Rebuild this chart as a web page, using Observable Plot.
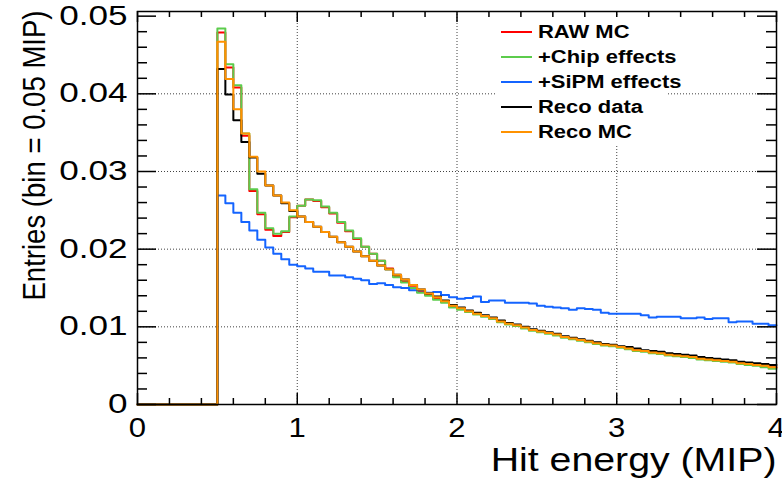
<!DOCTYPE html>
<html>
<head>
<meta charset="utf-8">
<script src="https://cdn.jsdelivr.net/npm/d3@7"></script>
<script src="https://cdn.jsdelivr.net/npm/@observablehq/plot@0.6"></script>
<style>
  body { margin: 0; background: #fff; }
  #wrap { position: relative; width: 782px; height: 482px; font-family: "Liberation Sans", Arial, sans-serif; }
  #legend { position: absolute; left: 495px; top: 17px; width: 172px; height: 128px; background: #fff; }
  .item { position: absolute; left: 0; height: 24px; white-space: nowrap; }
  .swatch { position: absolute; left: 6px; top: 11px; width: 31px; height: 2px; }
  .label { position: absolute; left: 43px; top: 2px; font-weight: bold; font-size: 18px; line-height: 20px;
           display: inline-block; transform: scaleX(1.22); transform-origin: left center; color: #000; }
</style>
</head>
<body>
<div id="wrap"></div>
<script>
// Histogram binning (MIP)
const binStart = 0.5;
const binWidth = 0.05;
const xMin = 0;

// Series values per bin (0.5 → 4.0 MIP, bin = 0.05 MIP)
const rawMC = [
  0.0479,0.0434,0.0408,0.0346,0.0275,0.0245,0.0225,0.0217,0.0222,0.0241,
  0.0256,0.0264,0.0262,0.0254,0.0246,0.0234,0.0223,0.0213,0.0203,0.0194,
  0.0185,0.0175,0.0165,0.0158,0.0151,0.0145,0.0141,0.0136,0.0132,0.0126,
  0.0123,0.0120,0.0117,0.0114,0.0111,0.0107,0.0104,0.0102,0.0099,0.0096,
  0.0094,0.0092,0.0090,0.0087,0.0085,0.0083,0.0081,0.0079,0.0077,0.0076,
  0.0074,0.0072,0.0070,0.0069,0.0067,0.0066,0.0064,0.0063,0.0062,0.0061,
  0.0059,0.0058,0.0057,0.0056,0.0055,0.0054,0.0053,0.0052,0.0050,0.0048];
const chipEffects = [
  0.0484,0.0438,0.0411,0.0349,0.0277,0.0247,0.0227,0.0220,0.0223,0.0242,
  0.0256,0.0264,0.0263,0.0255,0.0247,0.0235,0.0224,0.0214,0.0203,0.0194,
  0.0185,0.0174,0.0164,0.0157,0.0150,0.0144,0.0140,0.0135,0.0131,0.0125,
  0.0122,0.0119,0.0116,0.0113,0.0110,0.0106,0.0103,0.0101,0.0098,0.0095,
  0.0093,0.0091,0.0089,0.0086,0.0084,0.0082,0.0080,0.0078,0.0076,0.0075,
  0.0073,0.0071,0.0069,0.0068,0.0066,0.0065,0.0063,0.0062,0.0061,0.0060,
  0.0058,0.0057,0.0056,0.0055,0.0054,0.0052,0.0051,0.0050,0.0048,0.0046];
const sipmEffects = [
  0.0269,0.0259,0.0247,0.0235,0.0224,0.0212,0.0202,0.0194,0.0187,0.0180,
  0.0178,0.0175,0.0171,0.0171,0.0166,0.0166,0.0164,0.0162,0.0160,0.0155,
  0.0156,0.0154,0.0151,0.0150,0.0147,0.0147,0.0144,0.0145,0.0141,0.0138,
  0.0136,0.0137,0.0139,0.0132,0.0134,0.0134,0.0131,0.0131,0.0131,0.0130,
  0.0127,0.0126,0.0125,0.0124,0.0122,0.0124,0.0123,0.0122,0.0118,0.0117,
  0.0117,0.0117,0.0117,0.0115,0.0112,0.0113,0.0113,0.0113,0.0111,0.0111,
  0.0112,0.0110,0.0111,0.0111,0.0106,0.0107,0.0107,0.0104,0.0104,0.0102];
const recoData = [
  0.0432,0.0399,0.0366,0.0338,0.0318,0.0297,0.0282,0.0269,0.0259,0.0249,
  0.0242,0.0235,0.0229,0.0222,0.0216,0.0209,0.0203,0.0197,0.0191,0.0185,
  0.0179,0.0174,0.0167,0.0161,0.0154,0.0148,0.0143,0.0139,0.0134,0.0128,
  0.0125,0.0121,0.0118,0.0115,0.0112,0.0108,0.0105,0.0103,0.0100,0.0097,
  0.0095,0.0093,0.0091,0.0088,0.0086,0.0084,0.0082,0.0080,0.0078,0.0077,
  0.0075,0.0074,0.0072,0.0070,0.0069,0.0068,0.0066,0.0065,0.0064,0.0063,
  0.0061,0.0060,0.0059,0.0058,0.0057,0.0055,0.0054,0.0053,0.0052,0.0051];
const recoMC = [
  0.0467,0.0419,0.0380,0.0349,0.0319,0.0300,0.0282,0.0269,0.0260,0.0250,
  0.0242,0.0235,0.0229,0.0222,0.0216,0.0209,0.0203,0.0197,0.0191,0.0185,
  0.0179,0.0174,0.0167,0.0161,0.0154,0.0148,0.0143,0.0138,0.0133,0.0127,
  0.0124,0.0120,0.0117,0.0114,0.0111,0.0107,0.0104,0.0102,0.0099,0.0096,
  0.0094,0.0092,0.0090,0.0087,0.0085,0.0083,0.0081,0.0079,0.0077,0.0076,
  0.0074,0.0072,0.0070,0.0069,0.0067,0.0066,0.0064,0.0063,0.0062,0.0061,
  0.0059,0.0058,0.0057,0.0056,0.0055,0.0053,0.0052,0.0051,0.0050,0.0048];

const seriesNames = ["RAW MC", "+Chip effects", "+SiPM effects", "Reco data", "Reco MC"];
const seriesColors = ["#ff0000", "#5ccc4c", "#1464ff", "#000000", "#ff9200"];
const seriesValues = [rawMC, chipEffects, sipmEffects, recoData, recoMC];

// Axis ticks
const xMajor = [0, 1, 2, 3, 4];
const xMinor = [0.2, 0.4, 0.6, 0.8, 1.2, 1.4, 1.6, 1.8, 2.2, 2.4, 2.6, 2.8, 3.2, 3.4, 3.6, 3.8];
const yMajor = [0, 0.01, 0.02, 0.03, 0.04, 0.05];
const yMinor = [0.002,0.004,0.006,0.008,0.012,0.014,0.016,0.018,0.022,0.024,0.026,0.028,
                0.032,0.034,0.036,0.038,0.042,0.044,0.046,0.048];
const xGrid = [1, 2, 3];
const yGrid = [0.01, 0.02, 0.03, 0.04];
const xTitle = "Hit energy (MIP)";
const yTitle = "Entries (bin = 0.05 MIP)";

function histPoints(values, name) {
  const pts = [{x: xMin, y: 0, name}];
  values.forEach((v, i) => pts.push({x: binStart + i * binWidth, y: v, name}));
  pts.push({x: binStart + values.length * binWidth, y: values[values.length - 1], name});
  return pts;
}

const W = 782, H = 482, mL = 137, mR = 6, mT = 11, mB = 78;
const fw = W - mL - mR, fh = H - mT - mB;

const marks = [
  Plot.gridX(xGrid, {stroke: "#000", strokeOpacity: 0.75, strokeDasharray: "1,2", strokeWidth: 1}),
  Plot.gridY(yGrid, {stroke: "#000", strokeOpacity: 0.75, strokeDasharray: "1,2", strokeWidth: 1}),
];
seriesValues.forEach((vals, i) => {
  marks.push(Plot.line(histPoints(vals, seriesNames[i]), {
    x: "x", y: "y", curve: "step-after", stroke: seriesColors[i], strokeWidth: 2
  }));
});
marks.push(
  // ticks inside the frame on all four sides
  Plot.tickX(xMajor, {x: d => d, insetTop: fh - 11, stroke: "#000", strokeWidth: 1.5}),
  Plot.tickX(xMinor, {x: d => d, insetTop: fh - 6, stroke: "#000", strokeWidth: 1.5}),
  Plot.tickX(xMajor, {x: d => d, insetBottom: fh - 11, stroke: "#000", strokeWidth: 1.5}),
  Plot.tickX(xMinor, {x: d => d, insetBottom: fh - 6, stroke: "#000", strokeWidth: 1.5}),
  Plot.tickY(yMajor, {y: d => d, insetRight: fw - 19, stroke: "#000", strokeWidth: 1.5}),
  Plot.tickY(yMinor, {y: d => d, insetRight: fw - 10, stroke: "#000", strokeWidth: 1.5}),
  Plot.tickY(yMajor, {y: d => d, insetLeft: fw - 19, stroke: "#000", strokeWidth: 1.5}),
  Plot.tickY(yMinor, {y: d => d, insetLeft: fw - 10, stroke: "#000", strokeWidth: 1.5}),
  Plot.frame({stroke: "#000", strokeWidth: 1.5}),
  Plot.axisX(xMajor, {tickSize: 0, tickPadding: 13, fontSize: 27, tickFormat: d => String(d), label: null}),
  Plot.axisY(yMajor, {tickSize: 0, tickPadding: 10, fontSize: 27, tickFormat: d => d === 0 ? "0" : d.toFixed(2), label: null}),
  Plot.text([xTitle], {frameAnchor: "bottom-right", textAnchor: "end", dy: 66, fontSize: 33, fill: "#000"}),
  Plot.text([yTitle], {frameAnchor: "top-left", textAnchor: "end", rotate: -90, dx: -115, dy: -1, fontSize: 32, fill: "#000"})
);

const chart = Plot.plot({
  width: W, height: H,
  marginLeft: mL, marginRight: mR, marginTop: mT, marginBottom: mB,
  x: {domain: [0, 4], axis: null},
  y: {domain: [0, 0.0506], axis: null},
  style: {fontFamily: "'Liberation Sans', Arial, sans-serif", background: "#fff", color: "#000", overflow: "visible"},
  marks
});

const wrap = document.getElementById("wrap");
wrap.appendChild(chart);

// legend (drawn inside the frame, ROOT-style)
const legend = document.createElement("div");
legend.id = "legend";
seriesNames.forEach((name, i) => {
  const item = document.createElement("div");
  item.className = "item";
  item.style.top = (3 + i * 25) + "px";
  const sw = document.createElement("div");
  sw.className = "swatch";
  sw.style.background = seriesColors[i];
  const lb = document.createElement("span");
  lb.className = "label";
  lb.textContent = name;
  item.appendChild(sw);
  item.appendChild(lb);
  legend.appendChild(item);
});
wrap.appendChild(legend);

// horizontal stretch of text to match the reference's wide glyphs
function setLen(t, len) {
  t.setAttribute("textLength", len);
  t.setAttribute("lengthAdjust", "spacingAndGlyphs");
}
chart.querySelectorAll('[aria-label="y-axis tick label"] text').forEach(t => setLen(t, t.getComputedTextLength() * 1.3));
chart.querySelectorAll('[aria-label="x-axis tick label"] text').forEach(t => setLen(t, t.getComputedTextLength() * 1.15));
chart.querySelectorAll('text').forEach(t => {
  if (t.textContent === xTitle) setLen(t, t.getComputedTextLength() * 1.19);
  if (t.textContent === yTitle) setLen(t, 290);
});
</script>
</body>
</html>
